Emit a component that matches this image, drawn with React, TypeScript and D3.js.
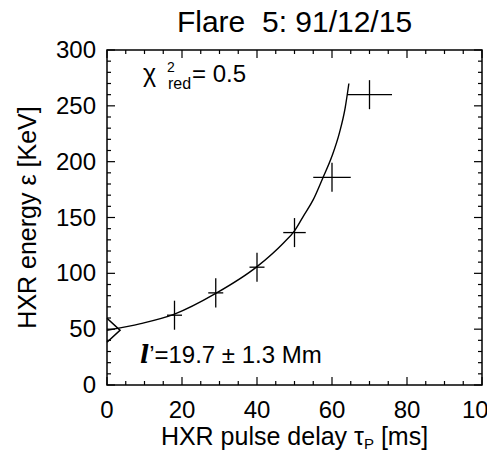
import React from "react";
import * as d3 from "d3";

// Measured points (HXR pulse delay in ms, energy in keV) with error bars
const delays = [18, 29, 40, 50, 60, 70];
const energies = [62.5, 82.5, 105.5, 136.5, 186, 260];
const delayErrors = [2, 2, 2, 3, 5, 6];
const energyErrors = [13, 13, 13, 13, 13, 13];

// Fitted curve
const fitDelays = [0, 9, 18, 29, 40, 47, 50, 52.5, 55, 57.5, 60, 62, 63.5, 64.5];
const fitEnergies = [49, 55, 63.5, 82, 106, 127, 138, 152, 166, 185, 205, 226, 248, 270];

// Reference marker at the axis
const markerDelay = 0;
const markerEnergy = 49;

const xTicks = [0, 20, 40, 60, 80, 100];
const yTicks = [0, 50, 100, 150, 200, 250, 300];

const W = 487;
const H = 452;
const FONT = "'Liberation Sans', Arial, Helvetica, sans-serif";

export default function App() {
  const x = d3.scaleLinear().domain([0, 100]).range([107, 482]);
  const y = d3.scaleLinear().domain([0, 300]).range([385, 50]);

  const xMinor = d3.range(0, 100.01, 5);
  const yMinor = d3.range(0, 300.01, 10);
  const major = 8;
  const minor = 4;

  const line = d3
    .line<number>()
    .x((_, i) => x(fitDelays[i]))
    .y((d) => y(d))
    .curve(d3.curveMonotoneX);

  const [x0, x1] = x.range();
  const [y0, y1] = y.range();

  return (
    <svg
      width={W}
      height={H}
      style={{ position: "absolute", left: 0, top: 0, background: "#fff" }}
      fontFamily={FONT}
    >
      <rect x={0} y={0} width={W} height={H} fill="#fff" />
      {/* title */}
      <text x={(x0 + x1) / 2} y={32} fontSize={30} textAnchor="middle" style={{ whiteSpace: "pre" }}>
        {"Flare  5: 91/12/15"}
      </text>

      {/* frame */}
      <rect x={x0} y={y1} width={x1 - x0} height={y0 - y1} fill="none" stroke="#000" strokeWidth={1.5} />

      {/* x ticks */}
      {xMinor.map((t) => {
        const isMajor = t % 20 === 0;
        const l = isMajor ? major : minor;
        return (
          <g key={"xt" + t} stroke="#000" strokeWidth={1.2}>
            <line x1={x(t)} x2={x(t)} y1={y0} y2={y0 - l} />
            <line x1={x(t)} x2={x(t)} y1={y1} y2={y1 + l} />
          </g>
        );
      })}
      {yMinor.map((t) => {
        const isMajor = t % 50 === 0;
        const l = isMajor ? major : minor;
        return (
          <g key={"yt" + t} stroke="#000" strokeWidth={1.2}>
            <line x1={x0} x2={x0 + l} y1={y(t)} y2={y(t)} />
            <line x1={x1} x2={x1 - l} y1={y(t)} y2={y(t)} />
          </g>
        );
      })}

      {/* tick labels */}
      {xTicks.map((t) => (
        <text key={"xl" + t} x={x(t)} y={418} fontSize={24} textAnchor="middle">
          {t}
        </text>
      ))}
      {yTicks.map((t) => (
        <text key={"yl" + t} x={96} y={y(t) + 8} fontSize={24} textAnchor="end">
          {t}
        </text>
      ))}

      {/* axis titles */}
      <text x={(x0 + x1) / 2} y={445} fontSize={25} textAnchor="middle">
        HXR pulse delay τ
        <tspan fontSize={15} dy={4}>P</tspan>
        <tspan dy={-4}> [ms]</tspan>
      </text>
      <text
        transform={`translate(36, ${(y0 + y1) / 2}) rotate(-90)`}
        fontSize={25}
        textAnchor="middle"
      >
        HXR energy ε [KeV]
      </text>

      {/* fit curve */}
      <path d={line(fitEnergies) || ""} fill="none" stroke="#000" strokeWidth={1.4} />

      {/* marker */}
      <polyline
        points={`${x(markerDelay)},${y(markerEnergy) - 12} ${x(markerDelay) + 13},${y(markerEnergy)} ${x(markerDelay)},${y(markerEnergy) + 12}`}
        fill="none"
        stroke="#000"
        strokeWidth={1.6}
      />

      {/* data crosses */}
      {delays.map((d, i) => (
        <g key={"p" + i} stroke="#000" strokeWidth={1.3}>
          <line x1={x(d - delayErrors[i])} x2={x(d + delayErrors[i])} y1={y(energies[i])} y2={y(energies[i])} />
          <line x1={x(d)} x2={x(d)} y1={y(energies[i] - energyErrors[i])} y2={y(energies[i] + energyErrors[i])} />
        </g>
      ))}

      {/* chi-square annotation */}
      <text x={143} y={82} fontSize={25}>χ</text>
      <text x={167} y={72} fontSize={14}>2</text>
      <text x={168} y={89} fontSize={16}>red</text>
      <text x={192} y={82} fontSize={24} style={{ whiteSpace: "pre" }}>{"= 0.5"}</text>

      {/* loop length annotation */}
      <text x={140} y={363} fontSize={24} style={{ whiteSpace: "pre" }}>
        <tspan fontFamily="'DejaVu Serif', 'Liberation Serif', serif" fontStyle="italic" fontWeight="bold">l</tspan>
        <tspan>’</tspan>
        <tspan>{"=19.7 ± 1.3 Mm"}</tspan>
      </text>
    </svg>
  );
}
